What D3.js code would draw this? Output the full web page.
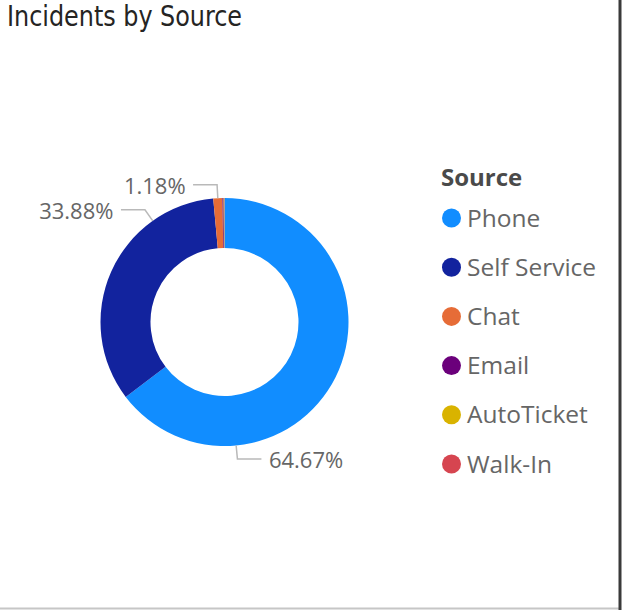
<!DOCTYPE html>
<html>
<head>
<meta charset="utf-8">
<script src="https://cdn.jsdelivr.net/npm/d3@7"></script>
<style>
  html, body { margin: 0; padding: 0; background: #fff; }
  svg { display: block; }
</style>
</head>
<body>
<svg id="chart" width="623" height="610"></svg>
<script>
// Incident share by source, in percent
const sources = ["Phone", "Self Service", "Chat", "Email", "AutoTicket", "Walk-In"];
const shares  = [64.67, 33.88, 1.18, 0.15, 0.08, 0.04];
const colors  = ["#118DFF", "#12239E", "#E66C37", "#6B007B", "#D9B300", "#D64550"];
const labelled = ["Phone", "Self Service", "Chat"];

const W = 623, H = 610;
const svg = d3.select("#chart");
const font = "'Segoe UI', 'Open Sans', sans-serif";

// visual frame
svg.append("rect").attr("x", 0).attr("y", 607.5).attr("width", 619).attr("height", 2).attr("fill", "#c6c6c6");
svg.append("rect").attr("x", 618.5).attr("y", 0).attr("width", 3).attr("height", 610).attr("fill", "#3a3a3a");

// title
svg.append("text")
  .attr("x", 7).attr("y", 26)
  .attr("font-family", "'DejaVu Sans', sans-serif")
  .style("font-stretch", "condensed")
  .attr("font-size", 29)
  .attr("textLength", 235)
  .attr("lengthAdjust", "spacingAndGlyphs")
  .attr("fill", "#252423")
  .text("Incidents by Source");

// donut
const cx = 224.5, cy = 322, outerR = 124, innerR = 74;
const data = sources.map((s, i) => ({ source: s, value: shares[i] }));
const color = d3.scaleOrdinal().domain(sources).range(colors);
const pie = d3.pie().value(d => d.value).sort(null).startAngle(0).endAngle(2 * Math.PI);
const arcs = pie(data);
const arc = d3.arc().innerRadius(innerR).outerRadius(outerR);

const g = svg.append("g").attr("transform", `translate(${cx},${cy})`);
g.selectAll("path.slice")
  .data(arcs)
  .join("path")
  .attr("class", "slice")
  .attr("d", arc)
  .attr("fill", d => color(d.data.source));

// data labels with elbow leader lines
// where along each slice the leader starts (0 = slice start, 1 = slice end)
const anchorAt = { "Phone": 0.75, "Self Service": 0.753, "Chat": 0.5 };
const elbowR = outerR + 13.5, run = 24, gap = 7.5;
const polar = (a, r) => [r * Math.sin(a), -r * Math.cos(a)];

arcs.filter(d => labelled.includes(d.data.source)).forEach(d => {
  const a = d.startAngle + (d.endAngle - d.startAngle) * anchorAt[d.data.source];
  const p0 = polar(a, outerR);
  const p1 = polar(a, elbowR);
  const dir = Math.sin(a) >= 0 ? 1 : -1;
  const p2 = [p1[0] + dir * run, p1[1]];
  g.append("polyline")
    .attr("points", [p0, p1, p2].map(p => p.join(",")).join(" "))
    .attr("fill", "none")
    .attr("stroke", "#b9b9b9")
    .attr("stroke-width", 1.5);
  g.append("text")
    .attr("x", p2[0] + dir * gap)
    .attr("y", p2[1] + 9)
    .attr("text-anchor", dir > 0 ? "start" : "end")
    .attr("font-family", font)
    .attr("font-size", 22)
    .attr("fill", "#666666")
    .text(d3.format(".2f")(d.data.value) + "%");
});

// legend
const legend = svg.append("g").attr("transform", "translate(441,0)");
legend.append("text")
  .attr("x", 0).attr("y", 186)
  .attr("font-family", font)
  .attr("font-weight", "bold")
  .attr("font-size", 24)
  .attr("fill", "#4a4a4a")
  .text("Source");

const ly = d3.scalePoint().domain(sources).range([218, 464]);
const item = legend.selectAll("g.item")
  .data(sources)
  .join("g")
  .attr("class", "item")
  .attr("transform", s => `translate(0,${ly(s)})`);
item.append("circle").attr("cx", 10.5).attr("cy", 0).attr("r", 9.5).attr("fill", s => color(s));
item.append("text")
  .attr("x", 26).attr("y", 8.5)
  .attr("font-family", font)
  .attr("font-size", 24.5)
  .attr("fill", "#666666")
  .text(s => s);
</script>
</body>
</html>
